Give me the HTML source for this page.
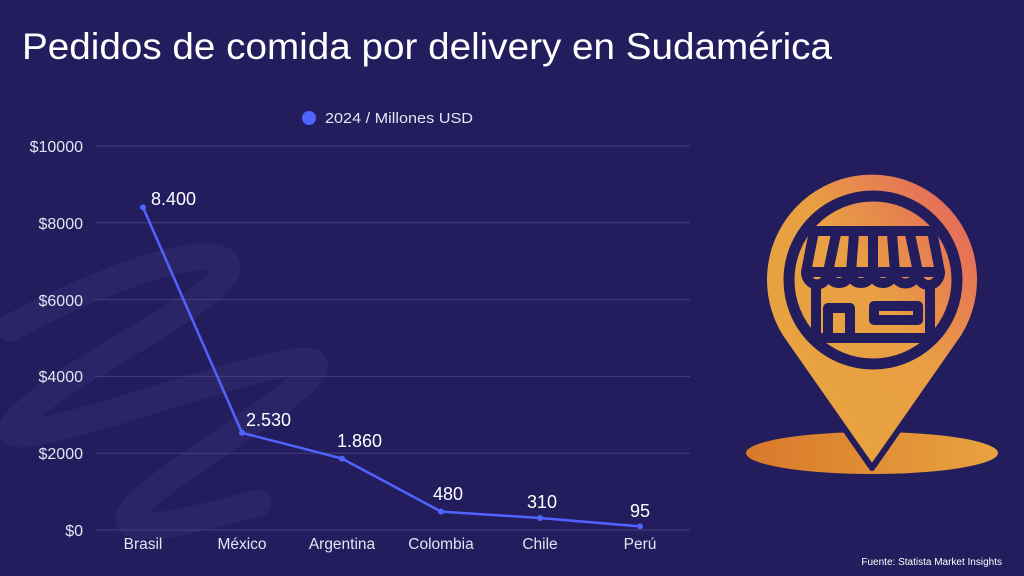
<!DOCTYPE html>
<html><head><meta charset="utf-8"><style>
html,body{margin:0;padding:0;background:#231d5e;}
svg{display:block;font-family:"Liberation Sans",sans-serif;}
</style></head><body>
<svg width="1024" height="576" viewBox="0 0 1024 576" xmlns="http://www.w3.org/2000/svg">
<defs>
<linearGradient id="g" x1="0" y1="1" x2="1" y2="0">
<stop offset="0" stop-color="#e9a33f"/><stop offset="0.55" stop-color="#e8a042"/><stop offset="1" stop-color="#e45a62"/>
</linearGradient>
<linearGradient id="g2" x1="0" y1="0" x2="1" y2="0">
<stop offset="0" stop-color="#d8792b"/><stop offset="1" stop-color="#e9a33f"/>
</linearGradient>
</defs>
<rect width="1024" height="576" fill="#231d5e"/>
<path d="M10 328 C80 290 200 240 225 262 C250 290 40 380 12 428 C0 460 280 350 312 362 C340 380 110 500 130 522 C150 535 230 510 258 503" fill="none" stroke="#2b2567" stroke-width="27" stroke-linecap="round"/>
<text x="22" y="59" font-size="37" fill="#fff" textLength="810" lengthAdjust="spacingAndGlyphs">Pedidos de comida por delivery en Sudamérica</text>
<circle cx="309" cy="118" r="7" fill="#4f63ff"/>
<text x="325" y="123" font-size="15" fill="#e4e4f0" textLength="148" lengthAdjust="spacingAndGlyphs">2024 / Millones USD</text>
<g stroke="#433f7e" stroke-width="1">
<line x1="95" y1="146" x2="690" y2="146"/><line x1="95" y1="222.8" x2="690" y2="222.8"/>
<line x1="95" y1="299.6" x2="690" y2="299.6"/><line x1="95" y1="376.4" x2="690" y2="376.4"/>
<line x1="95" y1="453.2" x2="690" y2="453.2"/><line x1="95" y1="530" x2="690" y2="530"/>
</g>
<g font-size="16" fill="#e4e4f0" text-anchor="end">
<text x="83" y="152">$10000</text><text x="83" y="229">$8000</text><text x="83" y="306">$6000</text>
<text x="83" y="382">$4000</text><text x="83" y="459">$2000</text><text x="83" y="536">$0</text>
</g>
<g font-size="15.5" fill="#e4e4f0" text-anchor="middle">
<text x="143" y="549">Brasil</text><text x="242" y="549">México</text><text x="342" y="549">Argentina</text>
<text x="441" y="549">Colombia</text><text x="540" y="549">Chile</text><text x="640" y="549">Perú</text>
</g>
<polyline points="143,207.4 242,432.8 342,458.6 441,511.6 540,518 640,526.4" fill="none" stroke="#5063ff" stroke-width="2.5"/>
<g fill="#5063ff"><circle cx="143" cy="207.4" r="3"/><circle cx="242" cy="432.8" r="3"/><circle cx="342" cy="458.6" r="3"/><circle cx="441" cy="511.6" r="3"/><circle cx="540" cy="518" r="3"/><circle cx="640" cy="526.4" r="3"/></g>
<g font-size="18" fill="#fff">
<text x="151" y="205">8.400</text><text x="246" y="426">2.530</text><text x="337" y="447">1.860</text>
<text x="433" y="500">480</text><text x="527" y="508">310</text><text x="630" y="517">95</text>
</g>
<text x="1002" y="565" font-size="10" fill="#fff" text-anchor="end">Fuente: Statista Market Insights</text>
<ellipse cx="872" cy="453" rx="126" ry="21" fill="url(#g2)"/>
<path d="M872 468 L786 345 A108 108 0 1 1 958 345 Z" fill="url(#g)" stroke="#231d5e" stroke-width="6" stroke-linejoin="round"/>
<circle cx="873" cy="280" r="84" fill="none" stroke="#231d5e" stroke-width="11"/>
<g fill="none" stroke="#231d5e" stroke-width="10" stroke-linejoin="round">
<path d="M814 231 L932 231 L940 272 L806 272 Z"/>
<path d="M836 234 L828 272 M854 234 L851 272 M873 234 L873 272 M892 234 L895 272 M910 234 L918 272"/>
<path d="M806 272 a8 9 0 0 0 22 0 a11 11 0 0 0 22 0 a11 11 0 0 0 22 0 a11 11 0 0 0 22 0 a11 11 0 0 0 23 0 a8 9 0 0 0 23 0"/>
<path d="M816 285 L816 338 L930 338 L930 285"/>
<path d="M828 336 L828 308 L850 308 L850 336"/>
<rect x="874" y="306" width="44" height="14"/>
</g>
</svg>
</body></html>
